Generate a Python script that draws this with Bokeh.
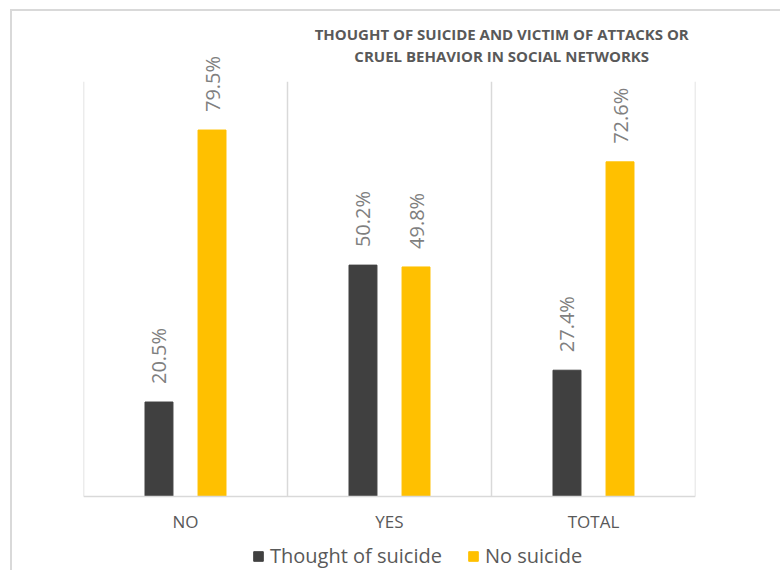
from math import pi
from bokeh.plotting import figure
from bokeh.core.properties import value
from bokeh.models import ColumnDataSource, FactorRange, Range1d, Label, LabelSet, Legend, LegendItem
from bokeh.transform import dodge
from bokeh.embed import file_html
from bokeh.resources import INLINE

categories = ["NO", "YES", "TOTAL"]
thought_of_suicide = [20.5, 50.2, 27.4]
no_suicide = [79.5, 49.8, 72.6]
series_names = ["Thought of suicide", "No suicide"]
title_lines = ["THOUGHT OF SUICIDE AND VICTIM OF ATTACKS OR",
               "CRUEL BEHAVIOR IN SOCIAL NETWORKS"]

DARK = "#404040"
YELLOW = "#FFC000"
TXT = "#595959"
LBL = "#7f7f7f"
GRID = "#d9d9d9"
FONT = "Open Sans"

src = ColumnDataSource(dict(
    cat=categories,
    t=thought_of_suicide,
    n=no_suicide,
    t_lbl=[f"{v:.1f}%" for v in thought_of_suicide],
    n_lbl=[f"{v:.1f}%" for v in no_suicide],
))

p = figure(
    x_range=FactorRange(factors=categories),
    y_range=Range1d(-16.05, 105),
    width=772, height=561,
    output_backend="svg", toolbar_location=None,
    min_border_left=71, min_border_right=89,
    min_border_top=1, min_border_bottom=2,
    margin=(9, 0, 0, 10),
    styles={"border-left": f"2px solid {GRID}", "border-top": f"2px solid {GRID}",
            "overflow": "hidden"},
)
p.outline_line_color = None
p.xgrid.visible = False
p.ygrid.visible = False
p.yaxis.visible = False

p.xaxis.fixed_location = 0
p.xaxis.axis_line_color = GRID
p.xaxis.axis_line_width = 1.5
p.xaxis.major_tick_line_color = None
p.xaxis.minor_tick_line_color = None
p.xaxis.major_label_text_font = FONT
p.xaxis.major_label_text_font_size = "17px"
p.xaxis.major_label_text_color = TXT
p.xaxis.major_label_standoff = 7

# category separators (from the baseline up to the top of the plot area)
bounds = list(range(len(categories) + 1))
p.segment(x0=bounds, x1=bounds, y0=0, y1=90, line_color=GRID, line_width=1.5)

W = 0.137
r1 = p.vbar(x=dodge("cat", -0.13, range=p.x_range), top="t", width=W, source=src, color=DARK)
r2 = p.vbar(x=dodge("cat", 0.13, range=p.x_range), top="n", width=W, source=src, color=YELLOW)

for fld, lbl, off in (("t", "t_lbl", -0.13), ("n", "n_lbl", 0.13)):
    p.add_layout(LabelSet(x=dodge("cat", off, range=p.x_range), y=fld, text=lbl, source=src,
                          angle=pi / 2, text_align="left", text_baseline="middle",
                          y_offset=18, text_font=value(FONT), text_font_size=value("20px"),
                          text_color=value(LBL)))

for line, yy in zip(title_lines, (100.4, 95.6)):
    p.add_layout(Label(x=2.05, y=yy, text=line,
                       text_align="center", text_baseline="middle",
                       text_font=FONT, text_font_size="15px", text_font_style="bold",
                       text_color=TXT))

lg = Legend(items=[LegendItem(label=series_names[0], renderers=[r1]),
                   LegendItem(label=series_names[1], renderers=[r2])],
            orientation="horizontal", location=(169, 1),
            border_line_color=None, background_fill_alpha=0,
            padding=0, margin=0, glyph_width=12, glyph_height=12,
            label_standoff=6, spacing=25,
            label_text_font=FONT, label_text_font_size="20px", label_text_color=TXT)
p.add_layout(lg)

open("out.html", "w").write(file_html(p, INLINE))
